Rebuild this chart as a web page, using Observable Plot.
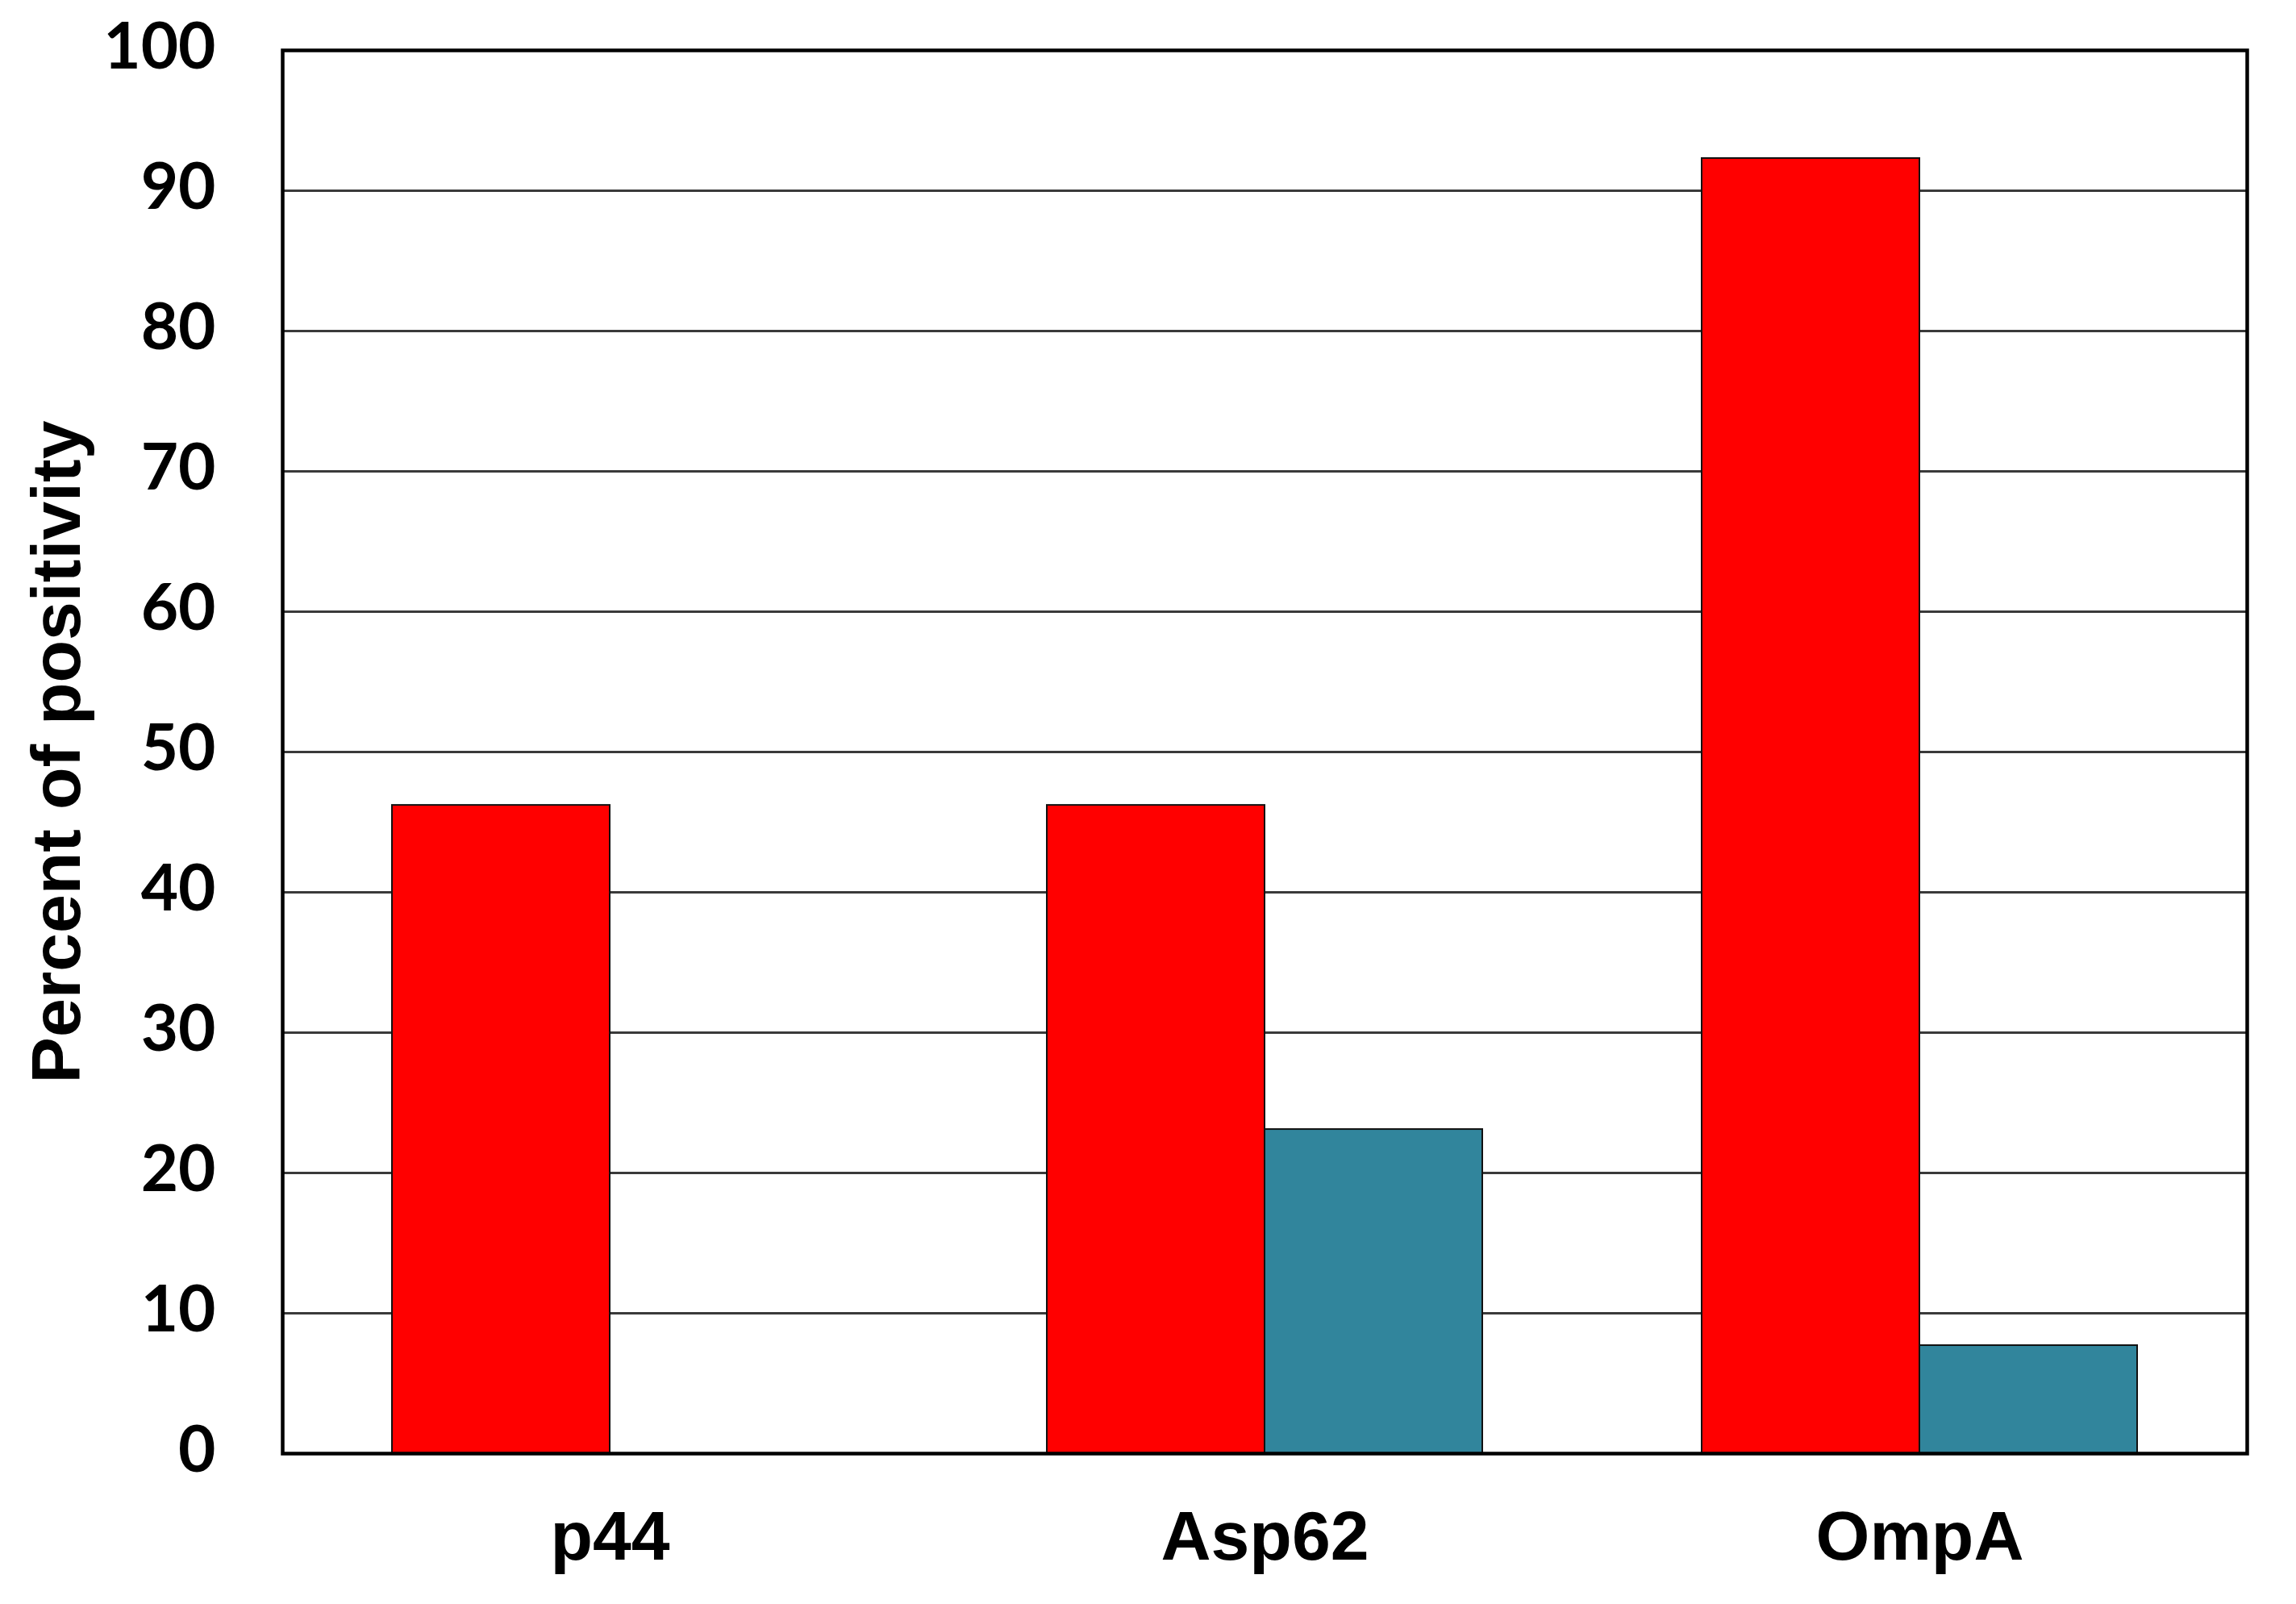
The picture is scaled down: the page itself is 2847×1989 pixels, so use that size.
<!DOCTYPE html>
<html>
<head>
<meta charset="utf-8">
<script src="https://cdn.jsdelivr.net/npm/d3@7"></script>
<script src="https://cdn.jsdelivr.net/npm/@observablehq/plot@0.6"></script>
<style>
  html, body { margin: 0; padding: 0; background: #fff; }
  #chart svg { display: block; }
</style>
</head>
<body>
<div id="chart"></div>
<script>
// Data
const groups = ["p44", "Asp62", "OmpA"];
const redValues = [46.2, 46.2, 92.3];
const tealValues = [0, 23.1, 7.7];
const yTicks = [0, 10, 20, 30, 40, 50, 60, 70, 80, 90, 100];
const gridTicks = [10, 20, 30, 40, 50, 60, 70, 80, 90];
const yLabel = "Percent of positivity";

const redData = groups.map((g, i) => ({group: g, value: redValues[i]}));
const tealData = groups.map((g, i) => ({group: g, value: tealValues[i]}));

const W = 2847, H = 1989;
const mL = 350, mR = 61, mT = 62, mB = 187;
const pad = 0.335;
const innerW = W - mL - mR;
const bw = innerW * (1 - pad) / (groups.length - pad + pad);
const half = bw / 2;

const tickFont = "Lato, 'Open Sans', sans-serif";
const labelFont = "'Liberation Sans', Arial, sans-serif";

const chart = Plot.plot({
  width: W,
  height: H,
  marginLeft: mL,
  marginRight: mR,
  marginTop: mT,
  marginBottom: mB,
  style: {background: "#fff", overflow: "visible"},
  x: {domain: groups, paddingInner: pad, paddingOuter: pad / 2, label: null},
  y: {domain: [0, 100], label: null},
  marks: [
    Plot.ruleY(gridTicks, {stroke: "#3a3a3a", strokeWidth: 3}),
    Plot.barY(redData, {x: "group", y: "value", fill: "#FF0000", stroke: "#111", strokeWidth: 2, insetRight: half}),
    Plot.barY(tealData.filter(d => d.value > 0), {x: "group", y: "value", fill: "#31859C", stroke: "#111", strokeWidth: 2, insetLeft: half}),
    Plot.frame({stroke: "#000", strokeWidth: 4.5}),
    Plot.axisY({ticks: yTicks, tickSize: 0, tickPadding: 83, dy: -3, fontSize: 80, fontFamily: tickFont, fontWeight: "bold", fill: "#000", label: null}),
    Plot.axisY({ticks: [], label: yLabel, labelArrow: false, labelAnchor: "center", labelOffset: 313, fontSize: 86, fontFamily: labelFont, fontWeight: "bold", fill: "#000"}),
    Plot.axisX({tickSize: 0, tickPadding: 70, fontSize: 86, fontFamily: labelFont, fontWeight: "bold", fill: "#000", label: null})
  ]
});
document.getElementById("chart").appendChild(chart);
</script>
</body>
</html>
